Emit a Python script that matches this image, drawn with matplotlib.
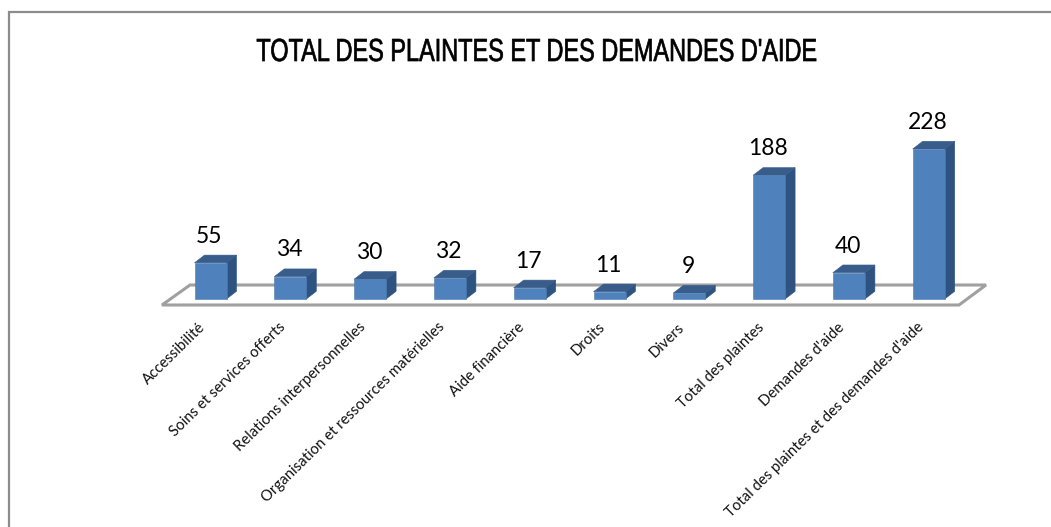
import matplotlib
matplotlib.use("Agg")
import matplotlib.pyplot as plt
from matplotlib.patches import Polygon
from matplotlib.patheffects import AbstractPathEffect
from matplotlib.transforms import Affine2D

categories = ["Accessibilité", "Soins et services offerts", "Relations interpersonnelles",
              "Organisation et ressources matérielles", "Aide financière", "Droits", "Divers",
              "Total des plaintes", "Demandes d'aide", "Total des plaintes et des demandes d'aide"]
values = [55, 34, 30, 32, 17, 11, 9, 188, 40, 228]
title = "TOTAL DES PLAINTES ET DES DEMANDES D'AIDE"

W, H = 1051, 527
X0, DX = 210.5, 79.8       # pixel of first bar centre, pixels per category
Y0, DY = 299.0, 150 / 228  # pixel of baseline, pixels per unit
BAR_PX, DEPTH_X, DEPTH_Y = 32.0, 10.0, 7.7


class Narrow(AbstractPathEffect):
    """Squeeze text horizontally around a display x, with a slight stroke."""
    def __init__(self, cx, sx, lw):
        super().__init__()
        self.cx, self.sx, self.lw = cx, sx, lw

    def draw_path(self, renderer, gc, tpath, affine, rgbFace=None):
        g = renderer.new_gc()
        g.copy_properties(gc)
        g.set_linewidth(self.lw)
        g.set_foreground("black")
        t = affine + Affine2D().translate(-self.cx, 0).scale(self.sx, 1).translate(self.cx, 0)
        renderer.draw_path(g, tpath, t, rgbFace)
        g.restore()


fig = plt.figure(figsize=(W / 100, H / 100), dpi=100, facecolor="white")
ax = fig.add_axes([0, 0, 1, 1])
ax.set_xlim(-X0 / DX, (W - X0) / DX)
ax.set_ylim((Y0 - H) / DY, Y0 / DY)
ax.axis("off")

px = Affine2D().scale(1, -1).translate(0, H)

# outer frame
ax.plot([8.5, 8.5, W], [H, 11.5, 11.5], color="#8c8c8c", lw=1.6, transform=px, clip_on=False,
        solid_joinstyle="miter", zorder=1)

# floor
ax.add_patch(Polygon([(162, 305), (190, 285), (986, 285), (959, 305)], closed=True, fill=False,
                     edgecolor="#a0a0a0", lw=2.2, transform=px, zorder=2, joinstyle="miter"))

w = BAR_PX / DX
dx = DEPTH_X / DX
dy = DEPTH_Y / DY
xs = list(range(len(values)))
ax.bar(xs, values, width=w, color="#4F81BD", edgecolor="#4a7ab3", lw=0.4, zorder=4)
for x, v in zip(xs, values):
    r = x + w / 2
    l = x - w / 2
    ax.add_patch(Polygon([(r, 0), (r + dx, dy), (r + dx, v + dy), (r, v)], color="#2F5380", lw=0.4, zorder=3))
    ax.add_patch(Polygon([(l, v), (l + dx, v + dy), (r + dx, v + dy), (r, v)], color="#385D8A", lw=0.4, zorder=3))
    ax.annotate(str(v), (x, v), xytext=(-1, 19.2), textcoords="offset points", ha="center", va="center",
                fontsize=16.5, family="Lato", color="black", zorder=5)

for x, c in zip(xs, categories):
    ax.annotate(c, (x, 0), xytext=(-7, -26), textcoords="offset pixels", rotation=44.5,
                rotation_mode="anchor", ha="right", va="center", fontsize=10.7, family="Lato", color="#111111")

t = ax.text(537.5, 53, title, transform=px, ha="center", va="center", fontsize=23,
            family="Liberation Sans", color="black")
t.set_path_effects([Narrow(537.5, 0.735, 0.5)])

fig.savefig("out.png", dpi=100, facecolor="white")
